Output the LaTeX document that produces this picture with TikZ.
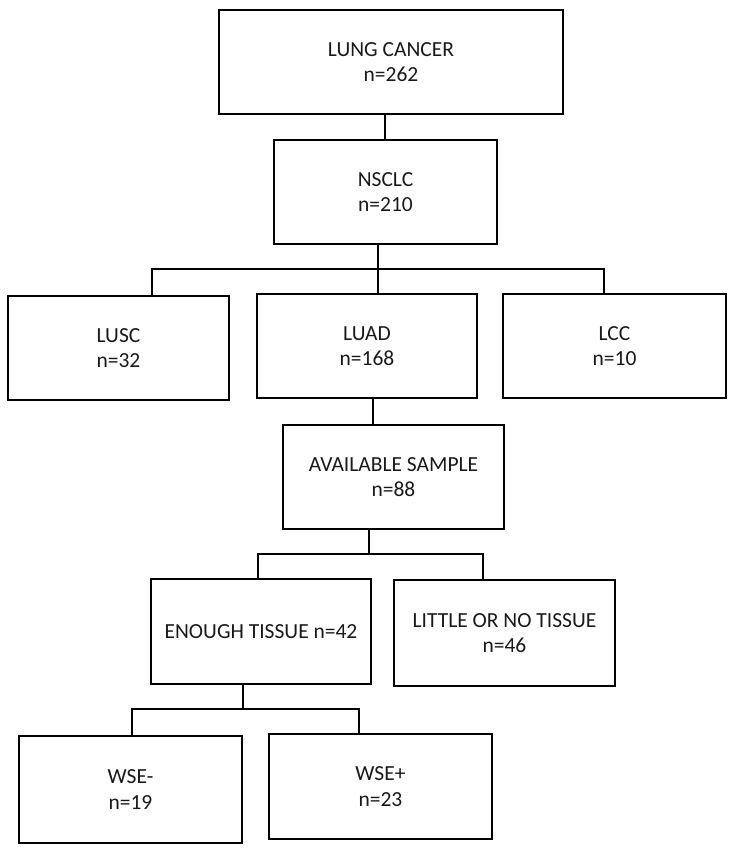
\documentclass[tikz,border=0pt]{standalone}
\usepackage{fontspec}
\setmainfont{Carlito}
\usetikzlibrary{calc}
\definecolor{txt}{RGB}{25,25,25}
\tikzset{
  box/.style={draw=black, line width=1.3pt, rectangle, inner sep=0pt, align=center,
    text=txt, font=\fontsize{21.5}{25.5}\selectfont},
  conn/.style={draw=black, line width=1.3pt}
}
\begin{document}
\begin{tikzpicture}[x=1pt,y=1pt]
\useasboundingbox (0,0) rectangle (737,-852);
% boxes: center (x, -y), width, height
\node[box, minimum width=344, minimum height=104] (lc) at (391,-62) {LUNG CANCER\\n=262};
\node[box, minimum width=223, minimum height=104] (nsclc) at (385.5,-192) {NSCLC\\n=210};
\node[box, minimum width=221, minimum height=104] (lusc) at (118.5,-348) {LUSC\\n=32};
\node[box, minimum width=220, minimum height=104] (luad) at (367,-346) {LUAD\\n=168};
\node[box, minimum width=223, minimum height=104] (lcc) at (614.5,-346) {LCC\\n=10};
\node[box, minimum width=221, minimum height=104] (avail) at (393.5,-477) {AVAILABLE SAMPLE\\n=88};
\node[box, minimum width=220, minimum height=105] (enough) at (261,-631.5) {ENOUGH TISSUE n=42};
\node[box, minimum width=221, minimum height=106] (little) at (504.5,-633) {LITTLE OR NO TISSUE\\n=46};
\node[box, minimum width=223, minimum height=107] (wsem) at (130.5,-789.5) {WSE-\\n=19};
\node[box, minimum width=223, minimum height=105] (wsep) at (380.5,-786.5) {WSE+\\n=23};
% bus coordinates
\coordinate (j1) at (385,-114);
\coordinate (b1) at (378,-269);
\coordinate (b1l) at (152,-269);
\coordinate (b1r) at (604,-269);
\coordinate (j2) at (373,-398);
\coordinate (b2) at (369,-554);
\coordinate (b2l) at (258,-554);
\coordinate (b2r) at (483,-554);
\coordinate (b3) at (243,-709);
\coordinate (b3l) at (132,-709);
\coordinate (b3r) at (359,-709);
% connectors
\draw[conn] (j1 |- lc.south) -- (j1 |- nsclc.north);
\draw[conn] (b1 |- nsclc.south) -- (b1) -- (b1 |- luad.north);
\draw[conn] (b1l |- lusc.north) -- (b1l) -- (b1r) -- (b1r |- lcc.north);
\draw[conn] (j2 |- luad.south) -- (j2 |- avail.north);
\draw[conn] (b2 |- avail.south) -- (b2);
\draw[conn] (b2l |- enough.north) -- (b2l) -- (b2r) -- (b2r |- little.north);
\draw[conn] (b3 |- enough.south) -- (b3);
\draw[conn] (b3l |- wsem.north) -- (b3l) -- (b3r) -- (b3r |- wsep.north);
\end{tikzpicture}
\end{document}
